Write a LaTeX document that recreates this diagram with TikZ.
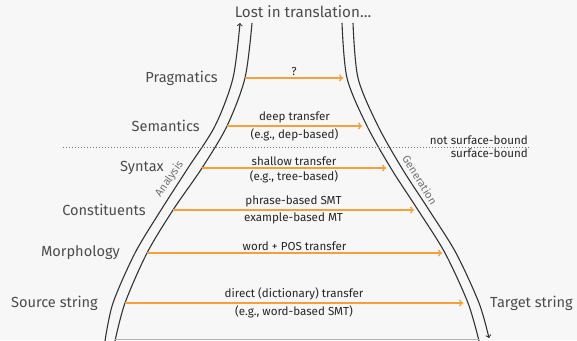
\documentclass[tikz,border=0pt]{standalone}
\usepackage{fontspec}
\setmainfont{Fira Sans}
\usepackage{tikz}
\usetikzlibrary{positioning}
\definecolor{bggray}{HTML}{F7F7F7}
\definecolor{txtgray}{HTML}{4C4C4C}
\definecolor{mtorange}{HTML}{F7A03A}
\tikzstyle{level} = [text=txtgray, font=\fontsize{14.6}{16}\selectfont, inner sep=0pt]
\tikzstyle{method} = [text=black!85, font=\fontsize{11.6}{13}\selectfont, inner sep=2pt]
\tikzstyle{transfer} = [draw=mtorange, line width=1.5pt, ->]
\tikzstyle{pipe} = [draw=black!80, line width=1.1pt]
\tikzstyle{side} = [text=black!55, font=\fontsize{11}{12}\selectfont, inner sep=0pt]

\begin{document}
\begin{tikzpicture}[x=1pt,y=-1pt]
	\fill[bggray] (0,0) rectangle (577,340);
	\useasboundingbox (0,0) rectangle (577,340);
	% pipes up (analysis) and down (generation)
	\draw[pipe,->] plot[smooth] coordinates {(105,341) (113,303) (135,253) (161,210) (188,168) (215,126) (233,78) (240,23)};
	\draw[pipe] plot[smooth] coordinates {(115,341) (125,303) (147,253) (173,210) (202,168) (227,126) (245,78) (252,23)};
	\draw[pipe] plot[smooth] coordinates {(342,23) (347,78) (367,126) (392,170) (418,210) (445,253) (468,303) (479,341)};
	\draw[pipe,->] plot[smooth] coordinates {(353,23) (358,78) (378,126) (403,170) (429,210) (456,253) (479,303) (489,338)};
	\draw[black!30, line width=0.8pt] (115,339.5) -- (479,339.5);
	% transfer levels
	\coordinate (l1) at (245,78);  \coordinate (r1) at (343,78);
	\coordinate (l2) at (227,126); \coordinate (r2) at (362,126);
	\coordinate (l3) at (202,168); \coordinate (r3) at (386,168);
	\coordinate (l4) at (173,210); \coordinate (r4) at (414,210);
	\coordinate (l5) at (147,253); \coordinate (r5) at (442,253);
	\coordinate (l6) at (125,303); \coordinate (r6) at (463,303);
	\draw[transfer] (l1) -- (r1) node[method, midway, above] {?};
	\draw[transfer] (l2) -- (r2) node[method, midway, above] {deep transfer} node[method, midway, below] {(e.g., dep-based)};
	\draw[transfer] (l3) -- (r3) node[method, midway, above] {shallow transfer} node[method, midway, below] {(e.g., tree-based)};
	\draw[transfer] (l4) -- (r4) node[method, midway, above] {phrase-based SMT} node[method, midway, below] {example-based MT};
	\draw[transfer] (l5) -- (r5) node[method, midway, above] {word + POS transfer};
	\draw[transfer] (l6) -- (r6) node[method, midway, above] {direct (dictionary) transfer} node[method, midway, below] {(e.g., word-based SMT)};
	% level names
	\node[level, left=27pt of l1] (prag) {Pragmatics};
	\node[level, left=27pt of l2] (sem) {Semantics};
	\node[level, left=38pt of l3] (syn) {Syntax};
	\node[level, left=27pt of l4] (con) {Constituents};
	\node[level, left=27pt of l5] (mor) {Morphology};
	\node[level, left=27pt of l6] (src) {Source string};
	\node[level, right=27pt of r6] (tgt) {Target string};
	\node[level, font=\fontsize{15.2}{17}\selectfont] (lost) at (303,12) {Lost in translation\dots};
	\node[side, rotate=55] (ana) at (169.5,179) {Analysis};
	\node[side, rotate=-58] (gen) at (420,180) {Generation};
	% surface line
	\coordinate (sl) at (63,147);
	\coordinate (sr) at (530,147);
	\draw[black!55, line width=0.8pt, dash pattern=on 0.8pt off 2.2pt] (sl) -- (sr);
	\node[method, anchor=south east, inner sep=2pt] (nsb) at (sr) {not surface-bound};
	\node[method, anchor=north east, inner sep=2pt] (sb) at (sr) {surface-bound};
\end{tikzpicture}
\end{document}
